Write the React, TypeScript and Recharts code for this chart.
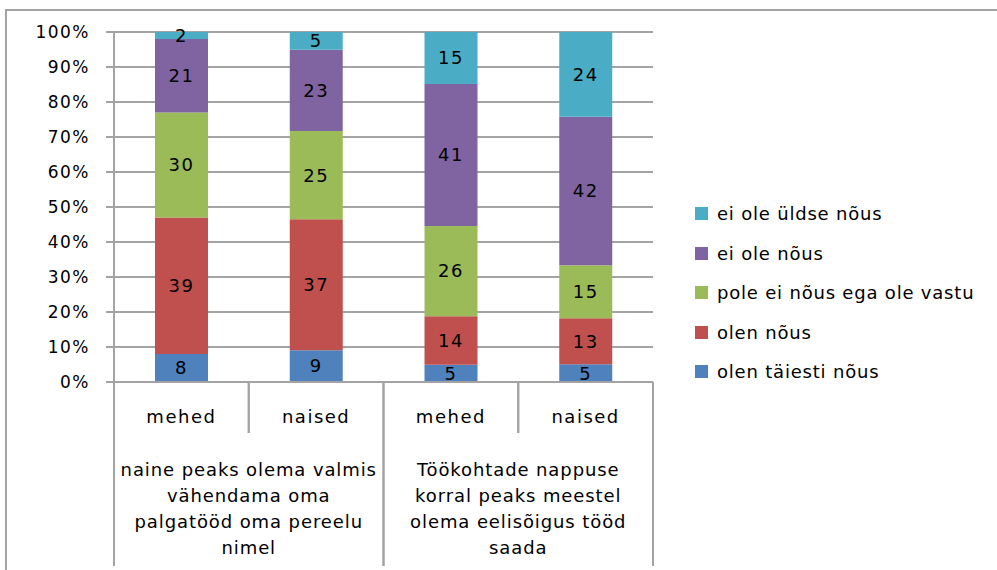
import React from 'react';
import { BarChart, Bar, XAxis, YAxis, CartesianGrid, Legend, LabelList } from 'recharts';

// two-level categories
const sexes = ['mehed', 'naised', 'mehed', 'naised'];
const statements = [
  'naine peaks olema valmis\nvähendama oma\npalgatööd oma pereelu\nnimel',
  'naine peaks olema valmis\nvähendama oma\npalgatööd oma pereelu\nnimel',
  'Töökohtade nappuse\nkorral peaks meestel\nolema eelisõigus tööd\nsaada',
  'Töökohtade nappuse\nkorral peaks meestel\nolema eelisõigus tööd\nsaada',
];

// answers, %
const olenTaiestiNous = [8, 9, 5, 5];
const olenNous = [39, 37, 14, 13];
const poleEiNous = [30, 25, 26, 15];
const eiOleNous = [21, 23, 41, 42];
const eiOleYldseNous = [2, 5, 15, 24];

const yTicks = [0, 0.1, 0.2, 0.3, 0.4, 0.5, 0.6, 0.7, 0.8, 0.9, 1];

const series = [
  { key: 'taiesti', name: 'olen täiesti nõus', color: '#4F81BD' },
  { key: 'nous', name: 'olen nõus', color: '#C0504D' },
  { key: 'pole', name: 'pole ei nõus ega ole vastu', color: '#9BBB59' },
  { key: 'eiole', name: 'ei ole nõus', color: '#8064A2' },
  { key: 'yldse', name: 'ei ole üldse nõus', color: '#4BACC6' },
];

const data = sexes.map((s, i) => ({
  sex: s,
  statement: statements[i],
  taiesti: olenTaiestiNous[i],
  nous: olenNous[i],
  pole: poleEiNous[i],
  eiole: eiOleNous[i],
  yldse: eiOleYldseNous[i],
}));

const W = 997;
const H = 570;
const GRID = '#a3a3a3';
const FONT = '"DejaVu Sans", sans-serif';
const PLOT_W = W - 114 - 344;

const SexTick = (props: any) => {
  const { x, y, payload } = props;
  const half = payload && payload.offset ? payload.offset : PLOT_W / sexes.length / 2;
  return (
    <g>
      <line x1={x - half} x2={x - half} y1={y} y2={y + 51} stroke={GRID} strokeWidth={2} />
      <line x1={x + half} x2={x + half} y1={y} y2={y + 51} stroke={GRID} strokeWidth={2} />
      <text x={x} y={y + 41} textAnchor="middle" fontSize={18} letterSpacing={1.5} fill="#000" fontFamily={FONT}>
        {payload.value}
      </text>
    </g>
  );
};

const StatementTick = (props: any) => {
  const { x, y, payload } = props;
  const half = payload && payload.offset ? payload.offset : PLOT_W / 2 / 2;
  const lines = String(payload.value).split('\n');
  return (
    <g>
      <line x1={x - half} x2={x - half} y1={y} y2={y + 133} stroke={GRID} strokeWidth={2} />
      <line x1={x + half} x2={x + half} y1={y} y2={y + 133} stroke={GRID} strokeWidth={2} />
      <text textAnchor="middle" fontSize={18} letterSpacing={0.9} fill="#000" fontFamily={FONT}>
        {lines.map((l, i) => (
          <tspan key={i} x={x} y={y + 43 + i * 26}>{l}</tspan>
        ))}
      </text>
    </g>
  );
};

const LegendBox = () => (
  <div style={{ fontFamily: FONT, fontSize: 18, letterSpacing: 0.8 }}>
    {[...series].reverse().map((s) => (
      <div key={s.key} style={{ display: 'flex', alignItems: 'center', height: 39.5 }}>
        <div style={{ width: 13, height: 13, background: s.color, marginRight: 9 }} />
        <span style={{ color: '#000' }}>{s.name}</span>
      </div>
    ))}
  </div>
);

export default function App() {
  return (
    <div style={{ position: 'absolute', left: 0, top: 0, width: W, height: H, overflow: 'hidden', background: '#fff' }}>
      <div style={{ position: 'absolute', left: 5, top: 9, width: 1100, height: 700, border: `2px solid ${GRID}` }} />
      <div style={{ position: 'absolute', left: 0, top: 0 }}>
        <BarChart
          width={W}
          height={H}
          data={data}
          stackOffset="expand"
          margin={{ top: 32, right: 344, bottom: 2, left: 0 }}
        >
          <CartesianGrid vertical={false} stroke={GRID} strokeWidth={2} />
          <XAxis
            dataKey="sex"
            height={51}
            interval={0}
            tickSize={0}
            tickMargin={0}
            tickLine={false}
            axisLine={{ stroke: GRID, strokeWidth: 2 }}
            tick={<SexTick />}
          />
          <XAxis
            xAxisId="grp"
            dataKey="statement"
            allowDuplicatedCategory={false}
            height={135}
            interval={0}
            tickSize={0}
            tickMargin={0}
            tickLine={false}
            axisLine={false}
            tick={<StatementTick />}
          />
          <YAxis
            width={114}
            domain={[0, 1]}
            ticks={yTicks}
            interval={0}
            tickSize={8}
            tickMargin={16}
            tickFormatter={(v: number) => `${Math.round(v * 100)}%`}
            tickLine={{ stroke: GRID, strokeWidth: 2 }}
            axisLine={{ stroke: GRID, strokeWidth: 2 }}
            tick={{ fill: '#000', fontSize: 17, fontFamily: FONT, letterSpacing: 1.5 }}
          />
          <Legend
            layout="vertical"
            align="center"
            verticalAlign="middle"
            content={<LegendBox />}
            wrapperStyle={{ left: 695, top: 194, width: 300 }}
          />
          {series.map((s) => (
            <Bar key={s.key} dataKey={s.key} name={s.name} stackId="a" fill={s.color} barSize={53} isAnimationActive={false}>
              <LabelList
                dataKey={s.key}
                position="center"
                fill="#000"
                fontSize={18}
                fontFamily={FONT}
                letterSpacing={1.5}
              />
            </Bar>
          ))}
        </BarChart>
      </div>
    </div>
  );
}
